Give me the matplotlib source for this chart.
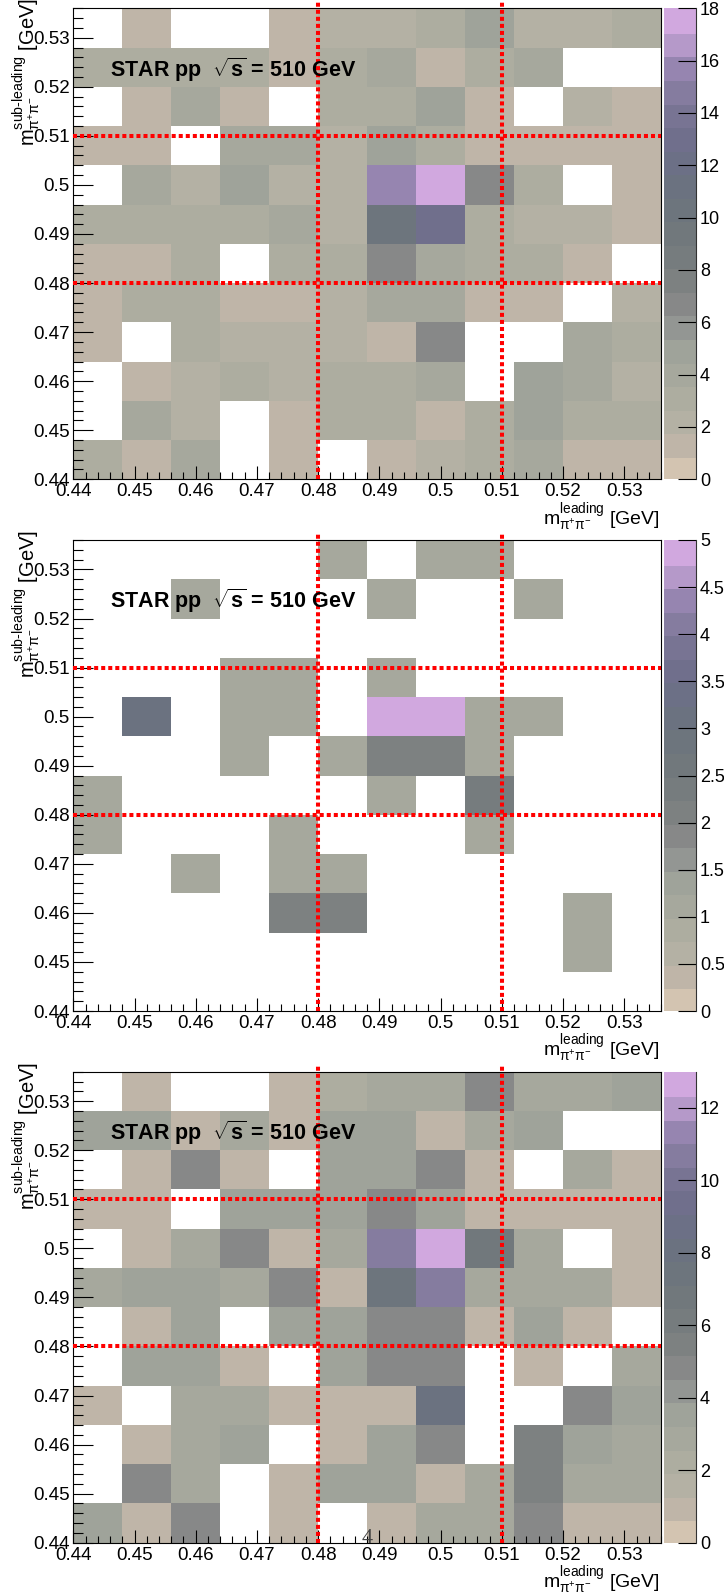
import numpy as np
import matplotlib
matplotlib.use("Agg")
import matplotlib.pyplot as plt
from matplotlib.colors import ListedColormap, BoundaryNorm
from matplotlib.ticker import MultipleLocator, FuncFormatter

plt.rcParams['font.family'] = ['Liberation Sans', 'DejaVu Sans']
plt.rcParams['mathtext.fontset'] = 'custom'
plt.rcParams['mathtext.rm'] = 'Liberation Sans'
plt.rcParams['mathtext.it'] = 'Liberation Sans:italic'
plt.rcParams['mathtext.bf'] = 'Liberation Sans:bold'

# -----------------------------
# data: 12 x 12 bins, rows listed top (0.528-0.536) -> bottom (0.44-0.448)
# -----------------------------
m_lo, m_hi, n_bins = 0.44, 0.536, 12
cuts = [0.48, 0.51]

counts_all = [
    [0, 1, 0, 0, 1, 2, 2, 3, 5, 2, 2, 3],
    [3, 3, 3, 3, 1, 3, 4, 1, 3, 4, 0, 0],
    [0, 1, 4, 1, 0, 3, 3, 5, 1, 0, 2, 1],
    [1, 1, 0, 4, 4, 2, 5, 3, 1, 1, 1, 1],
    [0, 4, 2, 5, 2, 2, 16, 18, 7, 3, 0, 1],
    [3, 3, 3, 3, 4, 2, 10, 13, 3, 2, 2, 1],
    [1, 1, 3, 0, 3, 3, 7, 4, 3, 3, 1, 0],
    [1, 3, 3, 1, 1, 2, 4, 4, 1, 1, 0, 2],
    [1, 0, 3, 2, 2, 2, 1, 7, 0, 0, 4, 3],
    [0, 1, 2, 3, 2, 3, 3, 4, 0, 5, 4, 2],
    [0, 4, 2, 0, 1, 3, 3, 1, 3, 5, 3, 3],
    [3, 1, 4, 0, 1, 0, 1, 2, 3, 4, 1, 1],
]

counts_side = [
    [0, 0, 0, 0, 0, 1, 0, 1, 1, 0, 0, 0],
    [0, 0, 1, 0, 0, 0, 1, 0, 0, 1, 0, 0],
    [0, 0, 0, 0, 0, 0, 0, 0, 0, 0, 0, 0],
    [0, 0, 0, 1, 1, 0, 1, 0, 0, 0, 0, 0],
    [0, 3, 0, 1, 1, 0, 5, 5, 1, 1, 0, 0],
    [0, 0, 0, 1, 0, 1, 2, 2, 1, 0, 0, 0],
    [1, 0, 0, 0, 0, 0, 1, 0, 2.3, 0, 0, 0],
    [1, 0, 0, 0, 1, 0, 0, 0, 1, 0, 0, 0],
    [0, 0, 1, 0, 1, 1, 0, 0, 0, 0, 0, 0],
    [0, 0, 0, 0, 2, 2, 0, 0, 0, 0, 1, 0],
    [0, 0, 0, 0, 0, 0, 0, 0, 0, 0, 1, 0],
    [0, 0, 0, 0, 0, 0, 0, 0, 0, 0, 0, 0],
]

counts_sub = [
    [0, 1, 0, 0, 1, 2, 3, 3, 4.7, 3, 3, 3.5],
    [3.5, 3.5, 1, 3, 1, 3.5, 3.5, 1, 3, 3.5, 0, 0],
    [0, 1, 4.7, 1, 0, 3.5, 3.5, 5, 1, 0, 3, 1],
    [1, 1, 0, 3.5, 3.5, 3.5, 4.7, 3.5, 1, 1, 1, 1],
    [0, 1, 3, 4.7, 1, 3, 10.5, 13, 6.7, 3, 0, 1],
    [3, 3.5, 3.5, 3, 4.7, 1, 7.2, 10.5, 3, 3, 3, 1],
    [0, 1, 3.5, 0, 3.5, 3.5, 5, 4.7, 1, 3.5, 1, 0],
    [0, 3.5, 3.5, 1, 0, 3.5, 4.7, 4.7, 0, 1, 0, 3],
    [1, 0, 3, 3, 1, 1, 1, 8, 0, 0, 4.7, 3.5],
    [0, 1, 3, 3.5, 0, 1, 3.5, 5, 0, 5.5, 3.5, 3],
    [0, 4.7, 3, 0, 1, 3.5, 3.5, 1, 3, 5.5, 3, 3],
    [3.5, 1, 4.7, 0, 1, 0, 1, 3, 3, 4.7, 1, 1],
]

z_max = [18, 5, 13]
z_ticks = [list(range(0, 19, 2)),
           [0, 0.5, 1, 1.5, 2, 2.5, 3, 3.5, 4, 4.5, 5],
           list(range(0, 13, 2))]

# paleta (20 niveles, de 0 a z_max)
paleta = ["#d3c4b1", "#bfb5a8", "#b4b1a4", "#adada0", "#a6a89d",
          "#9fa39a", "#939693", "#878888", "#7d8181", "#767c7e",
          "#71787c", "#6d757d", "#6b7280", "#6c7086", "#706f8c",
          "#787493", "#857c9f", "#9685b0", "#b599c9", "#d1a8df"]
cmap = ListedColormap(paleta)

W, H = 724, 1596
panel_tops = [8.3, 540.0, 1071.7]
panel_h = 471.0


def fig_box(x0, y0, x1, y1):
    return [x0 / W, 1 - y1 / H, (x1 - x0) / W, (y1 - y0) / H]


fmt = FuncFormatter(lambda v, p: f"{round(v, 4):g}")
edges = np.linspace(m_lo, m_hi, n_bins + 1)

ylab = r"$\mathrm{m}^{\text{sub-leading}}_{\mathrm{\pi^{+}\pi^{-}}}$ [GeV]"
xlab = r"$\mathrm{m}^{\text{leading}}_{\mathrm{\pi^{+}\pi^{-}}}$ [GeV]"
star = r"STAR pp  $\sqrt{\mathbf{s}}$ = 510 GeV"

fig = plt.figure(figsize=(W / 100, H / 100), dpi=100)

for data, vmax, cticks, top in zip([counts_all, counts_side, counts_sub],
                                   z_max, z_ticks, panel_tops):
    ax = fig.add_axes(fig_box(73.3, top, 661, top + panel_h))
    norm = BoundaryNorm(np.linspace(0, vmax, 21), 20, clip=True)
    z = np.ma.masked_equal(np.array(data, float)[::-1], 0)
    mesh = ax.pcolormesh(edges, edges, z, cmap=cmap, norm=norm,
                         antialiased=False, zorder=1)
    ax.set_xlim(m_lo, m_hi)
    ax.set_ylim(m_lo, m_hi)
    ax.set_axisbelow(False)

    for c in cuts:
        ax.plot([c, c], [m_lo, 0.5372], color="#ff0000", lw=2.9,
                ls=(0, (1, 0.75)), clip_on=False, zorder=5)
        ax.plot([m_lo, m_hi], [c, c], color="#ff0000", lw=2.9,
                ls=(0, (1, 0.75)), clip_on=False, zorder=5)

    ax.xaxis.set_major_locator(MultipleLocator(0.01))
    ax.xaxis.set_minor_locator(MultipleLocator(0.002))
    ax.yaxis.set_major_locator(MultipleLocator(0.01))
    ax.yaxis.set_minor_locator(MultipleLocator(0.002))
    ax.xaxis.set_major_formatter(fmt)
    ax.yaxis.set_major_formatter(fmt)
    ax.tick_params(axis="y", which="major", direction="in", length=14.4,
                   width=0.8, right=False, pad=2.4, labelsize=13.5)
    ax.tick_params(axis="y", which="minor", direction="in", length=7.2,
                   width=0.8, right=False)
    ax.tick_params(axis="x", which="major", direction="in", length=9.4,
                   width=0.8, top=False, pad=3, labelsize=13.5)
    ax.tick_params(axis="x", which="minor", direction="in", length=5,
                   width=0.8, top=False)
    for s in ax.spines.values():
        s.set_linewidth(0.8)
        s.set_zorder(4)

    ax.text(0.0624, 0.8546, star, transform=ax.transAxes, fontsize=15.5,
            fontweight="bold", ha="left", va="baseline", zorder=6)

    fig.text(660 / W, 1 - (top + panel_h + 22) / H, xlab, ha="right",
             va="top", fontsize=14)
    fig.text(11 / W, 1 - (top + 138) / H, ylab, rotation=90, ha="left",
             va="bottom", fontsize=14.5)

    # barra de color
    cax = fig.add_axes(fig_box(663.5, top, 696.5, top + panel_h))
    cb = fig.colorbar(mesh, cax=cax, ticks=cticks)
    cb.outline.set_visible(False)
    cb.solids.set_edgecolor("face")
    cb.minorticks_off()
    cax.yaxis.set_major_formatter(fmt)
    cax.tick_params(direction="in", length=13, width=0.8, right=True,
                    left=False, labelsize=13, pad=2.5)
    cax.plot([1, 1], [0, 1], transform=cax.transAxes, color="#333333",
             lw=0.8, clip_on=False)

# numero de pagina
fig.text(367 / W, 1 - 1543 / H, "4", ha="center", va="baseline",
         family="Liberation Serif", fontsize=16, color="#444444")

fig.savefig("out.png", dpi=100)
